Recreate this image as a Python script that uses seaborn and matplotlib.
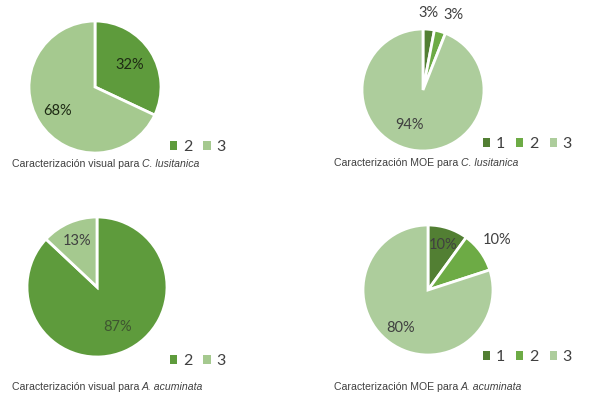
import numpy as np
import matplotlib.pyplot as plt
import seaborn as sns
from matplotlib.patches import Patch

sns.set_style("white")
plt.rcParams['font.family'] = ['Lato', 'DejaVu Sans']

# data (percent of samples per class)
vis_lus_cls = ['2', '3']
vis_lus_pct = [32, 68]
moe_lus_cls = ['1', '2', '3']
moe_lus_pct = [3, 3, 94]
vis_acu_cls = ['2', '3']
vis_acu_pct = [87, 13]
moe_acu_cls = ['1', '2', '3']
moe_acu_pct = [10, 10, 80]

col_vis = {'2': '#5E9B3C', '3': '#A5C98F'}
col_moe = {'1': '#527F33', '2': '#6DAB45', '3': '#ADCD9C'}

W, H = 590, 408
fig = plt.figure(figsize=(W / 100, H / 100), dpi=100)


def px_axes(cx, cy, r):
    # axes box (pixels, y from top) around a pie of radius r
    return fig.add_axes([(cx - r) / W, 1 - (cy + r) / H, 2 * r / W, 2 * r / H])


def draw_pie(cx, cy, r, cls, pct, colors, lab_dist, lab_shift, lab_col,
             leg_x, leg_y, cap_x, caption, species, cap_y):
    ax = px_axes(cx, cy, r)
    wedges, _ = ax.pie(pct, colors=[colors[c] for c in cls], startangle=90,
                       counterclock=False, radius=1,
                       wedgeprops=dict(edgecolor='white', linewidth=2))
    ax.set_xlim(-1, 1)
    ax.set_ylim(-1, 1)
    ax.set_aspect('equal')
    for w, p, d, s, tc in zip(wedges, pct, lab_dist, lab_shift, lab_col):
        ang = np.deg2rad((w.theta1 + w.theta2) / 2 + s)
        ax.text(d * np.cos(ang), d * np.sin(ang), f'{p}%', ha='center',
                va='center', fontsize=10.5, color=tc, clip_on=False)
    handles = [Patch(facecolor=colors[c], edgecolor='none') for c in cls]
    fig.legend(handles, cls, loc='center left',
               bbox_to_anchor=(leg_x / W, 1 - leg_y / H), ncol=len(cls),
               frameon=False, fontsize=11.5, handlelength=0.45,
               handleheight=0.45, handletextpad=0.35, columnspacing=0.7,
               borderpad=0, borderaxespad=0, labelcolor='#404040')
    t = fig.text(cap_x / W, 1 - cap_y / H, caption, fontsize=7.6,
                 family='Liberation Sans', color='#404040', va='center')
    fig.canvas.draw()
    bb = t.get_window_extent()
    fig.text(bb.x1 / W + 0.004, 1 - cap_y / H, species, fontsize=7.6,
             family='Liberation Sans', style='italic', color='#404040',
             va='center')


draw_pie(95, 87, 66, vis_lus_cls, vis_lus_pct, col_vis, [0.63, 0.68], [0, 0],
         ['#1E2A14', '#1E2A14'], 170, 147, 12,
         'Caracterización visual para', 'C. lusitanica', 164)
draw_pie(423, 90, 61, moe_lus_cls, moe_lus_pct, col_moe, [1.26, 1.33, 0.62],
         [1, -6, -10], ['#404040', '#404040', '#404040'], 483, 144, 334,
         'Caracterización MOE para', 'C. lusitanica', 163)
draw_pie(97, 287, 70, vis_acu_cls, vis_acu_pct, col_vis, [0.65, 0.71], [4, 0],
         ['#3E5530', '#404040'], 170, 361, 12,
         'Caracterización visual para', 'A. acuminata', 387)
draw_pie(428, 290, 65, moe_acu_cls, moe_acu_pct, col_moe, [0.73, 1.32, 0.72],
         [0, 0, 0], ['#404040', '#404040', '#404040'], 483, 357, 334,
         'Caracterización MOE para', 'A. acuminata', 387)

fig.savefig('out.png', dpi=100, facecolor='white')
